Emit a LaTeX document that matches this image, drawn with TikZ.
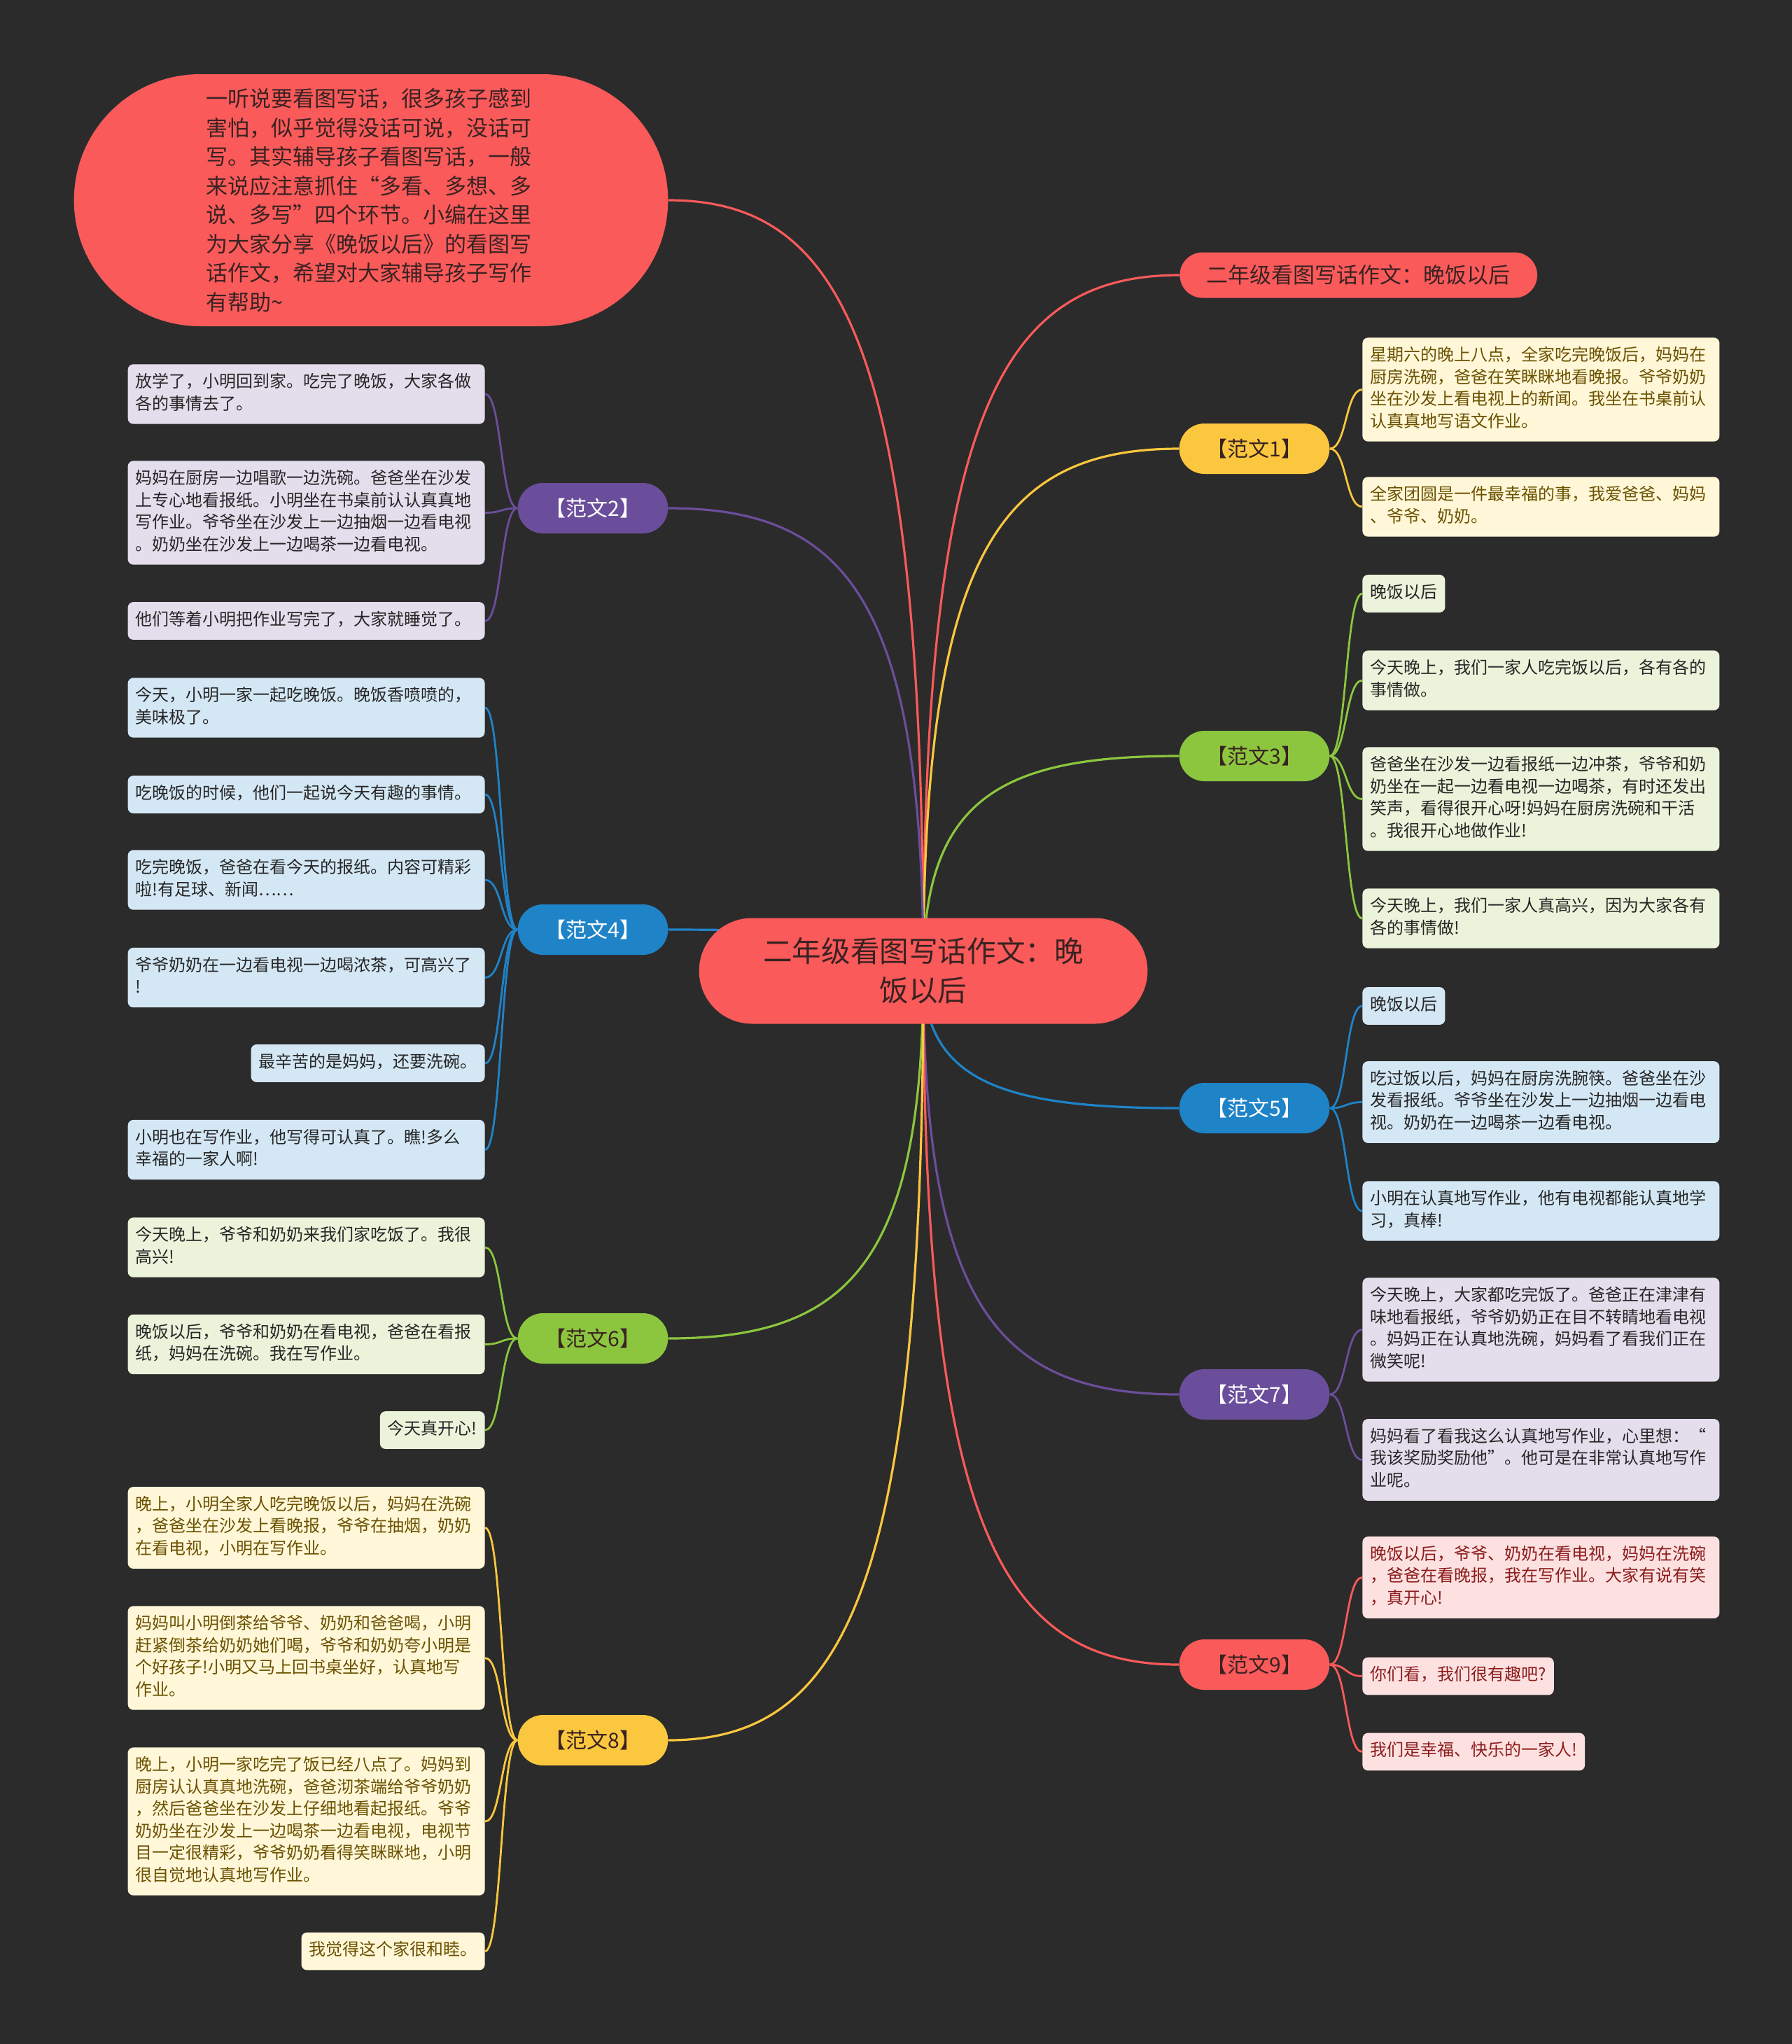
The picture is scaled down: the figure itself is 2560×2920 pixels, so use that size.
\documentclass[tikz,border=0pt]{standalone}
\usepackage{fontspec}
\setmainfont{Noto Sans CJK SC}
\usetikzlibrary{shapes.misc,backgrounds,calc}

\definecolor{bgcol}{HTML}{2B2B2B}
\definecolor{mapred}{HTML}{FA5A5A}
\definecolor{mapyellow}{HTML}{FBC73E}
\definecolor{mapgreen}{HTML}{8CC63E}
\definecolor{mapblue}{HTML}{1F83C8}
\definecolor{mappurple}{HTML}{6B4E9B}
\definecolor{redleaf}{HTML}{FDE1E1}
\definecolor{yellowleaf}{HTML}{FFF7D8}
\definecolor{greenleaf}{HTML}{EBF3DA}
\definecolor{blueleaf}{HTML}{D4E7F5}
\definecolor{purpleleaf}{HTML}{E3DDEC}
\definecolor{deeptext}{HTML}{3A2222}
\definecolor{olivetext}{HTML}{6B5100}
\definecolor{wine}{HTML}{8C1C1C}
\definecolor{inktext}{HTML}{262626}

\tikzset{
  topic/.style={rounded rectangle, fill=#1, minimum width=114pt, minimum height=36pt,
    font=\fontsize{15}{18}\selectfont, text=deeptext},
  leaf/.style={fill=#1, rounded corners=4pt, inner xsep=5.5pt, inner ysep=5.6pt,
    font=\fontsize{12}{15.75}\selectfont, text=inktext,
    execute at begin node=\strut, execute at end node=\strut},
  wide/.style={text width=244pt, align=left},
  link/.style={line width=1.6pt, draw=#1,
    to path={.. controls ($(\tikztostart)!0.8!(\tikztostart |- \tikztotarget)$)
      and ($(\tikztostart |- \tikztotarget)!0.3!(\tikztotarget)$) .. (\tikztotarget)}},
  twigr/.style={line width=1.4pt, draw=#1,
    to path={.. controls +(24,0) and +(-24,0) .. (\tikztotarget)}},
  twigl/.style={line width=1.4pt, draw=#1,
    to path={.. controls +(-24,0) and +(24,0) .. (\tikztotarget)}},
}

\begin{document}
\begin{tikzpicture}[x=0.5pt,y=-0.5pt]
\useasboundingbox (0,0) rectangle (2560,2920);

% centre, intro and title
\node[rounded rectangle, fill=mapred, text=deeptext, minimum width=327pt, minimum height=75.5pt,
  align=center, font=\fontsize{20.8}{28}\selectfont] (c) at (1319,1387)
  {二年级看图写话作文：晚\\饭以后};
\node[rounded rectangle, fill=mapred, text=deeptext, minimum width=431pt, minimum height=180pt,
  text width=236pt, align=left, font=\fontsize{15.5}{20.75}\selectfont] (intro) at (530,286)
  {一听说要看图写话，很多孩子感到\\害怕，似乎觉得没话可说，没话可\\写。其实辅导孩子看图写话，一般\\来说应注意抓住“多看、多想、多\\说、多写”四个环节。小编在这里\\为大家分享《晚饭以后》的看图写\\话作文，希望对大家辅导孩子写作\\有帮助\textasciitilde};
\node[rounded rectangle, fill=mapred, text=deeptext, minimum width=262pt, minimum height=32.5pt,
  font=\fontsize{15.5}{18}\selectfont, anchor=west] (t0) at (1685,393)
  {二年级看图写话作文：晚饭以后};

% branches
\node[topic=mapyellow] (b1) at (1792,641) {【范文1】};
\node[topic=mappurple, text=white] (b2) at (847,726) {【范文2】};
\node[topic=mapgreen] (b3) at (1792,1080) {【范文3】};
\node[topic=mapblue, text=white] (b4) at (847,1328) {【范文4】};
\node[topic=mapblue, text=white] (b5) at (1792,1583) {【范文5】};
\node[topic=mapgreen] (b6) at (847,1912) {【范文6】};
\node[topic=mappurple, text=white] (b7) at (1792,1992) {【范文7】};
\node[topic=mapyellow] (b8) at (847,2486) {【范文8】};
\node[topic=mapred] (b9) at (1792,2378) {【范文9】};

% leaves, right side
\node[leaf=yellowleaf, wide, text=olivetext, anchor=west] (l1a) at (1946,556.5)
  {星期六的晚上八点，全家吃完晚饭后，妈妈在\\厨房洗碗，爸爸在笑眯眯地看晚报。爷爷奶奶\\坐在沙发上看电视上的新闻。我坐在书桌前认\\认真真地写语文作业。};
\node[leaf=yellowleaf, wide, text=olivetext, anchor=west] (l1b) at (1946,724)
  {全家团圆是一件最幸福的事，我爱爸爸、妈妈\\、爷爷、奶奶。};

\node[leaf=greenleaf, anchor=west] (l3a) at (1946,848) {晚饭以后};
\node[leaf=greenleaf, wide, anchor=west] (l3b) at (1946,972)
  {今天晚上，我们一家人吃完饭以后，各有各的\\事情做。};
\node[leaf=greenleaf, wide, anchor=west] (l3c) at (1946,1141.5)
  {爸爸坐在沙发一边看报纸一边冲茶，爷爷和奶\\奶坐在一起一边看电视一边喝茶，有时还发出\\笑声，看得很开心呀!妈妈在厨房洗碗和干活\\。我很开心地做作业!};
\node[leaf=greenleaf, wide, anchor=west] (l3d) at (1946,1312)
  {今天晚上，我们一家人真高兴，因为大家各有\\各的事情做!};

\node[leaf=blueleaf, anchor=west] (l5a) at (1946,1437) {晚饭以后};
\node[leaf=blueleaf, wide, anchor=west] (l5b) at (1946,1574.5)
  {吃过饭以后，妈妈在厨房洗腕筷。爸爸坐在沙\\发看报纸。爷爷坐在沙发上一边抽烟一边看电\\视。奶奶在一边喝茶一边看电视。};
\node[leaf=blueleaf, wide, anchor=west] (l5c) at (1946,1730)
  {小明在认真地写作业，他有电视都能认真地学\\习，真棒!};

\node[leaf=purpleleaf, wide, anchor=west] (l7a) at (1946,1899.5)
  {今天晚上，大家都吃完饭了。爸爸正在津津有\\味地看报纸，爷爷奶奶正在目不转睛地看电视\\。妈妈正在认真地洗碗，妈妈看了看我们正在\\微笑呢!};
\node[leaf=purpleleaf, wide, anchor=west] (l7b) at (1946,2085.5)
  {妈妈看了看我这么认真地写作业，心里想：“\\我该奖励奖励他”。他可是在非常认真地写作\\业呢。};

\node[leaf=redleaf, wide, text=wine, anchor=west] (l9a) at (1946,2253.5)
  {晚饭以后，爷爷、奶奶在看电视，妈妈在洗碗\\，爸爸在看晚报，我在写作业。大家有说有笑\\，真开心!};
\node[leaf=redleaf, text=wine, anchor=west] (l9b) at (1946,2394.5) {你们看，我们很有趣吧?};
\node[leaf=redleaf, text=wine, anchor=west] (l9c) at (1946,2502.5) {我们是幸福、快乐的一家人!};

% leaves, left side
\node[leaf=purpleleaf, wide, anchor=east] (l2a) at (693,563)
  {放学了，小明回到家。吃完了晚饭，大家各做\\各的事情去了。};
\node[leaf=purpleleaf, wide, anchor=east] (l2b) at (693,732.5)
  {妈妈在厨房一边唱歌一边洗碗。爸爸坐在沙发\\上专心地看报纸。小明坐在书桌前认认真真地\\写作业。爷爷坐在沙发上一边抽烟一边看电视\\。奶奶坐在沙发上一边喝茶一边看电视。};
\node[leaf=purpleleaf, wide, anchor=east] (l2c) at (693,887)
  {他们等着小明把作业写完了，大家就睡觉了。};

\node[leaf=blueleaf, wide, anchor=east] (l4a) at (693,1011)
  {今天，小明一家一起吃晚饭。晚饭香喷喷的，\\美味极了。};
\node[leaf=blueleaf, wide, anchor=east] (l4b) at (693,1135)
  {吃晚饭的时候，他们一起说今天有趣的事情。};
\node[leaf=blueleaf, wide, anchor=east] (l4c) at (693,1257)
  {吃完晚饭，爸爸在看今天的报纸。内容可精彩\\啦!有足球、新闻……};
\node[leaf=blueleaf, wide, anchor=east] (l4d) at (693,1396.5)
  {爷爷奶奶在一边看电视一边喝浓茶，可高兴了\\!};
\node[leaf=blueleaf, anchor=east] (l4e) at (693,1519) {最辛苦的是妈妈，还要洗碗。};
\node[leaf=blueleaf, wide, anchor=east] (l4f) at (693,1642.5)
  {小明也在写作业，他写得可认真了。瞧!多么\\幸福的一家人啊!};

\node[leaf=greenleaf, wide, anchor=east] (l6a) at (693,1782)
  {今天晚上，爷爷和奶奶来我们家吃饭了。我很\\高兴!};
\node[leaf=greenleaf, wide, anchor=east] (l6b) at (693,1920.5)
  {晚饭以后，爷爷和奶奶在看电视，爸爸在看报\\纸，妈妈在洗碗。我在写作业。};
\node[leaf=greenleaf, anchor=east] (l6c) at (693,2043) {今天真开心!};

\node[leaf=yellowleaf, wide, text=olivetext, anchor=east] (l8a) at (693,2182.5)
  {晚上，小明全家人吃完晚饭以后，妈妈在洗碗\\，爸爸坐在沙发上看晚报，爷爷在抽烟，奶奶\\在看电视，小明在写作业。};
\node[leaf=yellowleaf, wide, text=olivetext, anchor=east] (l8b) at (693,2368.5)
  {妈妈叫小明倒茶给爷爷、奶奶和爸爸喝，小明\\赶紧倒茶给奶奶她们喝，爷爷和奶奶夸小明是\\个好孩子!小明又马上回书桌坐好，认真地写\\作业。};
\node[leaf=yellowleaf, wide, text=olivetext, anchor=east] (l8c) at (693,2602)
  {晚上，小明一家吃完了饭已经八点了。妈妈到\\厨房认认真真地洗碗，爸爸沏茶端给爷爷奶奶\\，然后爸爸坐在沙发上仔细地看起报纸。爷爷\\奶奶坐在沙发上一边喝茶一边看电视，电视节\\目一定很精彩，爷爷奶奶看得笑眯眯地，小明\\很自觉地认真地写作业。};
\node[leaf=yellowleaf, text=olivetext, anchor=east] (l8d) at (693,2787.5) {我觉得这个家很和睦。};

% connectors
\begin{scope}[on background layer]
  \fill[bgcol] (0,0) rectangle (2560,2920);
  \draw[link=mapred] (c.center) to (intro.east);
  \draw[link=mapred] (c.center) to (t0.west);
  \foreach \b/\col in {b1/mapyellow,b3/mapgreen,b5/mapblue,b7/mappurple,b9/mapred}
    \draw[link=\col] (c.center) to (\b.west);
  \foreach \b/\col in {b2/mappurple,b4/mapblue,b6/mapgreen,b8/mapyellow}
    \draw[link=\col] (c.center) to (\b.east);

  \foreach \l in {l1a,l1b} \draw[twigr=mapyellow] (b1.east) to (\l.west);
  \foreach \l in {l3a,l3b,l3c,l3d} \draw[twigr=mapgreen] (b3.east) to (\l.west);
  \foreach \l in {l5a,l5b,l5c} \draw[twigr=mapblue] (b5.east) to (\l.west);
  \foreach \l in {l7a,l7b} \draw[twigr=mappurple] (b7.east) to (\l.west);
  \foreach \l in {l9a,l9b,l9c} \draw[twigr=mapred] (b9.east) to (\l.west);

  \foreach \l in {l2a,l2b,l2c} \draw[twigl=mappurple] (b2.west) to (\l.east);
  \foreach \l in {l4a,l4b,l4c,l4d,l4e,l4f} \draw[twigl=mapblue] (b4.west) to (\l.east);
  \foreach \l in {l6a,l6b,l6c} \draw[twigl=mapgreen] (b6.west) to (\l.east);
  \foreach \l in {l8a,l8b,l8c,l8d} \draw[twigl=mapyellow] (b8.west) to (\l.east);
\end{scope}
\end{tikzpicture}
\end{document}
